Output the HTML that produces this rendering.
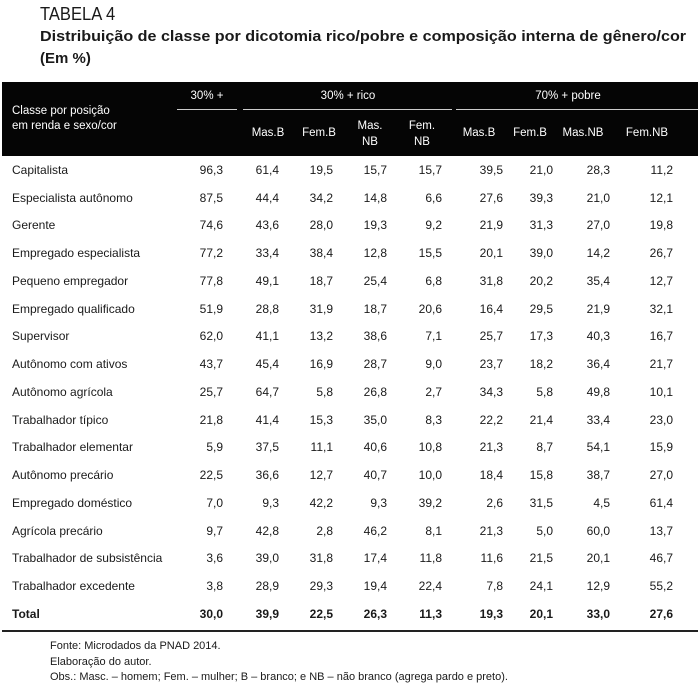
<!DOCTYPE html>
<html><head><meta charset="utf-8"><style>
body{margin:0;width:700px;height:692px;background:#fff;position:relative;overflow:hidden;font-family:"Liberation Sans",sans-serif;color:#1a1a1a}
.a{position:absolute;white-space:nowrap}
.hd{position:absolute;left:2px;top:82px;width:696px;height:74px;background:#050505}
.w{color:#fff;font-size:11.5px}
.r{position:absolute;height:20px;line-height:20px;font-size:12px;left:0;width:700px}
.r span{position:absolute;top:0}
.n{text-align:right;width:60px}
.b{font-weight:bold}
</style></head><body>
<div class="a" style="left:40px;top:4px;font-size:18px;transform:scaleX(0.92);transform-origin:left">TABELA 4</div>
<div class="a" style="left:40px;top:28px;font-size:15px;font-weight:bold;transform:scaleX(1.075);transform-origin:left">Distribuição de classe por dicotomia rico/pobre e composição interna de gênero/cor</div>
<div class="a" style="left:40px;top:50px;font-size:15px;font-weight:bold">(Em %)</div>
<div class="hd"></div>
<div class="a w" style="left:12px;top:104px;line-height:15px">Classe por posição<br>em renda e sexo/cor</div>
<div class="a w" style="left:177px;width:60px;text-align:center;top:90px">30% +</div>
<div class="a w" style="left:243px;width:210px;text-align:center;top:90px">30% + rico</div>
<div class="a w" style="left:456px;width:224px;text-align:center;top:90px">70% + pobre</div>
<div class="a" style="left:177px;top:109px;width:60px;height:1px;background:#ccc"></div>
<div class="a" style="left:243px;top:109px;width:209px;height:1px;background:#ccc"></div>
<div class="a" style="left:456px;top:109px;width:242px;height:1px;background:#ccc"></div>
<div class="a w" style="left:238px;width:60px;text-align:center;top:127px">Mas.B</div>
<div class="a w" style="left:289px;width:60px;text-align:center;top:127px">Fem.B</div>
<div class="a w" style="left:340px;width:60px;text-align:center;top:118px;line-height:16px">Mas.<br>NB</div>
<div class="a w" style="left:392px;width:60px;text-align:center;top:118px;line-height:16px">Fem.<br>NB</div>
<div class="a w" style="left:449px;width:60px;text-align:center;top:127px">Mas.B</div>
<div class="a w" style="left:500px;width:60px;text-align:center;top:127px">Fem.B</div>
<div class="a w" style="left:553px;width:60px;text-align:center;top:127px">Mas.NB</div>
<div class="a w" style="left:617px;width:60px;text-align:center;top:127px">Fem.NB</div>
<div class="r" style="top:160px"><span style="left:12px">Capitalista</span><span class="n" style="left:163px">96,3</span><span class="n" style="left:219px">61,4</span><span class="n" style="left:273px">19,5</span><span class="n" style="left:327px">15,7</span><span class="n" style="left:382px">15,7</span><span class="n" style="left:443px">39,5</span><span class="n" style="left:493px">21,0</span><span class="n" style="left:550px">28,3</span><span class="n" style="left:613px">11,2</span></div>
<div class="r" style="top:188px"><span style="left:12px">Especialista autônomo</span><span class="n" style="left:163px">87,5</span><span class="n" style="left:219px">44,4</span><span class="n" style="left:273px">34,2</span><span class="n" style="left:327px">14,8</span><span class="n" style="left:382px">6,6</span><span class="n" style="left:443px">27,6</span><span class="n" style="left:493px">39,3</span><span class="n" style="left:550px">21,0</span><span class="n" style="left:613px">12,1</span></div>
<div class="r" style="top:215px"><span style="left:12px">Gerente</span><span class="n" style="left:163px">74,6</span><span class="n" style="left:219px">43,6</span><span class="n" style="left:273px">28,0</span><span class="n" style="left:327px">19,3</span><span class="n" style="left:382px">9,2</span><span class="n" style="left:443px">21,9</span><span class="n" style="left:493px">31,3</span><span class="n" style="left:550px">27,0</span><span class="n" style="left:613px">19,8</span></div>
<div class="r" style="top:243px"><span style="left:12px">Empregado especialista</span><span class="n" style="left:163px">77,2</span><span class="n" style="left:219px">33,4</span><span class="n" style="left:273px">38,4</span><span class="n" style="left:327px">12,8</span><span class="n" style="left:382px">15,5</span><span class="n" style="left:443px">20,1</span><span class="n" style="left:493px">39,0</span><span class="n" style="left:550px">14,2</span><span class="n" style="left:613px">26,7</span></div>
<div class="r" style="top:271px"><span style="left:12px">Pequeno empregador</span><span class="n" style="left:163px">77,8</span><span class="n" style="left:219px">49,1</span><span class="n" style="left:273px">18,7</span><span class="n" style="left:327px">25,4</span><span class="n" style="left:382px">6,8</span><span class="n" style="left:443px">31,8</span><span class="n" style="left:493px">20,2</span><span class="n" style="left:550px">35,4</span><span class="n" style="left:613px">12,7</span></div>
<div class="r" style="top:299px"><span style="left:12px">Empregado qualificado</span><span class="n" style="left:163px">51,9</span><span class="n" style="left:219px">28,8</span><span class="n" style="left:273px">31,9</span><span class="n" style="left:327px">18,7</span><span class="n" style="left:382px">20,6</span><span class="n" style="left:443px">16,4</span><span class="n" style="left:493px">29,5</span><span class="n" style="left:550px">21,9</span><span class="n" style="left:613px">32,1</span></div>
<div class="r" style="top:326px"><span style="left:12px">Supervisor</span><span class="n" style="left:163px">62,0</span><span class="n" style="left:219px">41,1</span><span class="n" style="left:273px">13,2</span><span class="n" style="left:327px">38,6</span><span class="n" style="left:382px">7,1</span><span class="n" style="left:443px">25,7</span><span class="n" style="left:493px">17,3</span><span class="n" style="left:550px">40,3</span><span class="n" style="left:613px">16,7</span></div>
<div class="r" style="top:354px"><span style="left:12px">Autônomo com ativos</span><span class="n" style="left:163px">43,7</span><span class="n" style="left:219px">45,4</span><span class="n" style="left:273px">16,9</span><span class="n" style="left:327px">28,7</span><span class="n" style="left:382px">9,0</span><span class="n" style="left:443px">23,7</span><span class="n" style="left:493px">18,2</span><span class="n" style="left:550px">36,4</span><span class="n" style="left:613px">21,7</span></div>
<div class="r" style="top:382px"><span style="left:12px">Autônomo agrícola</span><span class="n" style="left:163px">25,7</span><span class="n" style="left:219px">64,7</span><span class="n" style="left:273px">5,8</span><span class="n" style="left:327px">26,8</span><span class="n" style="left:382px">2,7</span><span class="n" style="left:443px">34,3</span><span class="n" style="left:493px">5,8</span><span class="n" style="left:550px">49,8</span><span class="n" style="left:613px">10,1</span></div>
<div class="r" style="top:410px"><span style="left:12px">Trabalhador típico</span><span class="n" style="left:163px">21,8</span><span class="n" style="left:219px">41,4</span><span class="n" style="left:273px">15,3</span><span class="n" style="left:327px">35,0</span><span class="n" style="left:382px">8,3</span><span class="n" style="left:443px">22,2</span><span class="n" style="left:493px">21,4</span><span class="n" style="left:550px">33,4</span><span class="n" style="left:613px">23,0</span></div>
<div class="r" style="top:437px"><span style="left:12px">Trabalhador elementar</span><span class="n" style="left:163px">5,9</span><span class="n" style="left:219px">37,5</span><span class="n" style="left:273px">11,1</span><span class="n" style="left:327px">40,6</span><span class="n" style="left:382px">10,8</span><span class="n" style="left:443px">21,3</span><span class="n" style="left:493px">8,7</span><span class="n" style="left:550px">54,1</span><span class="n" style="left:613px">15,9</span></div>
<div class="r" style="top:465px"><span style="left:12px">Autônomo precário</span><span class="n" style="left:163px">22,5</span><span class="n" style="left:219px">36,6</span><span class="n" style="left:273px">12,7</span><span class="n" style="left:327px">40,7</span><span class="n" style="left:382px">10,0</span><span class="n" style="left:443px">18,4</span><span class="n" style="left:493px">15,8</span><span class="n" style="left:550px">38,7</span><span class="n" style="left:613px">27,0</span></div>
<div class="r" style="top:493px"><span style="left:12px">Empregado doméstico</span><span class="n" style="left:163px">7,0</span><span class="n" style="left:219px">9,3</span><span class="n" style="left:273px">42,2</span><span class="n" style="left:327px">9,3</span><span class="n" style="left:382px">39,2</span><span class="n" style="left:443px">2,6</span><span class="n" style="left:493px">31,5</span><span class="n" style="left:550px">4,5</span><span class="n" style="left:613px">61,4</span></div>
<div class="r" style="top:521px"><span style="left:12px">Agrícola precário</span><span class="n" style="left:163px">9,7</span><span class="n" style="left:219px">42,8</span><span class="n" style="left:273px">2,8</span><span class="n" style="left:327px">46,2</span><span class="n" style="left:382px">8,1</span><span class="n" style="left:443px">21,3</span><span class="n" style="left:493px">5,0</span><span class="n" style="left:550px">60,0</span><span class="n" style="left:613px">13,7</span></div>
<div class="r" style="top:548px"><span style="left:12px">Trabalhador de subsistência</span><span class="n" style="left:163px">3,6</span><span class="n" style="left:219px">39,0</span><span class="n" style="left:273px">31,8</span><span class="n" style="left:327px">17,4</span><span class="n" style="left:382px">11,8</span><span class="n" style="left:443px">11,6</span><span class="n" style="left:493px">21,5</span><span class="n" style="left:550px">20,1</span><span class="n" style="left:613px">46,7</span></div>
<div class="r" style="top:576px"><span style="left:12px">Trabalhador excedente</span><span class="n" style="left:163px">3,8</span><span class="n" style="left:219px">28,9</span><span class="n" style="left:273px">29,3</span><span class="n" style="left:327px">19,4</span><span class="n" style="left:382px">22,4</span><span class="n" style="left:443px">7,8</span><span class="n" style="left:493px">24,1</span><span class="n" style="left:550px">12,9</span><span class="n" style="left:613px">55,2</span></div>
<div class="r b" style="top:604px"><span style="left:12px">Total</span><span class="n" style="left:163px">30,0</span><span class="n" style="left:219px">39,9</span><span class="n" style="left:273px">22,5</span><span class="n" style="left:327px">26,3</span><span class="n" style="left:382px">11,3</span><span class="n" style="left:443px">19,3</span><span class="n" style="left:493px">20,1</span><span class="n" style="left:550px">33,0</span><span class="n" style="left:613px">27,6</span></div>
<div class="a" style="left:2px;top:630px;width:696px;height:2px;background:#222"></div>
<div class="a" style="left:50px;top:639px;font-size:11px;line-height:15.5px">Fonte: Microdados da PNAD 2014.<br>Elaboração do autor.<br>Obs.: Masc. – homem; Fem. – mulher; B – branco; e NB – não branco (agrega pardo e preto).</div>
</body></html>
